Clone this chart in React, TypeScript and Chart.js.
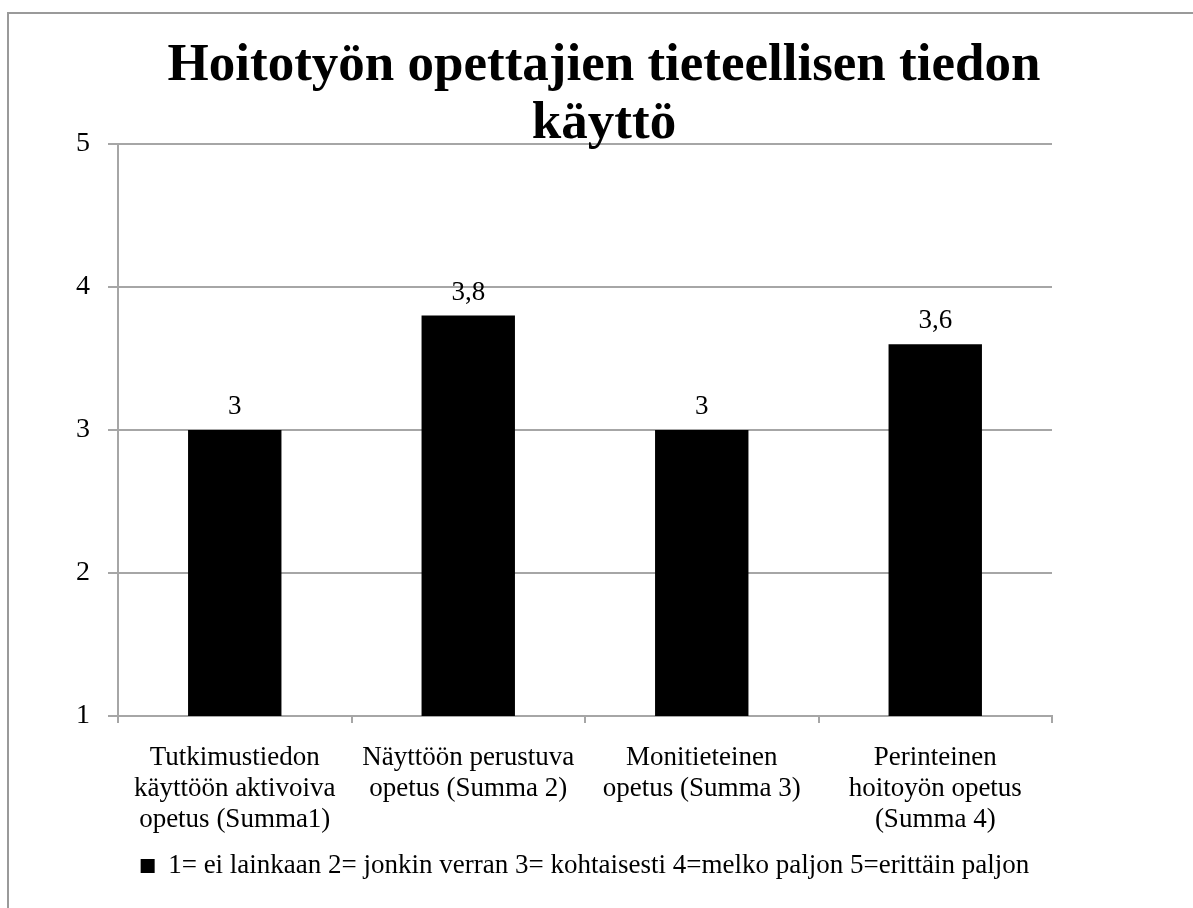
import React, { useEffect, useRef } from 'react';
import { Chart, registerables } from 'chart.js';

Chart.register(...registerables);

const titleLines = ['Hoitotyön opettajien tieteellisen tiedon', 'käyttö'];
const categories = [
  ['Tutkimustiedon', 'käyttöön aktivoiva', 'opetus (Summa1)'],
  ['Näyttöön perustuva', 'opetus (Summa 2)'],
  ['Monitieteinen', 'opetus (Summa 3)'],
  ['Perinteinen', 'hoitoyön opetus', '(Summa 4)'],
];
const values = [3, 3.8, 3, 3.6];
const seriesLabel = '1= ei lainkaan 2= jonkin verran 3= kohtaisesti 4=melko paljon 5=erittäin paljon';
const yMin = 1;
const yMax = 5;
const yStep = 1;

const FONT = "'Liberation Serif', 'Times New Roman', serif";
const GRID = '#a6a6a6';

const framePlugin = {
  id: 'frame',
  beforeDraw(chart: any) {
    const { ctx, width, height } = chart;
    ctx.save();
    ctx.fillStyle = '#ffffff';
    ctx.fillRect(0, 0, width, height);
    ctx.strokeStyle = '#9a9a9a';
    ctx.lineWidth = 2;
    ctx.beginPath();
    ctx.moveTo(8, height + 20);
    ctx.lineTo(8, 13);
    ctx.lineTo(width + 20, 13);
    ctx.stroke();
    ctx.restore();
  },
};

const valueLabelPlugin = {
  id: 'valueLabels',
  afterDatasetsDraw(chart: any) {
    const { ctx } = chart;
    const meta = chart.getDatasetMeta(0);
    ctx.save();
    ctx.fillStyle = '#000';
    ctx.font = `27px ${FONT}`;
    ctx.textAlign = 'center';
    ctx.textBaseline = 'alphabetic';
    meta.data.forEach((el: any, i: number) => {
      const v = chart.data.datasets[0].data[i];
      ctx.fillText(String(v).replace('.', ','), el.x, el.y - 16);
    });
    ctx.restore();
  },
};

export default function App() {
  const ref = useRef<HTMLCanvasElement | null>(null);
  useEffect(() => {
    if (!ref.current) return;
    const chart = new Chart(ref.current, {
      type: 'bar',
      data: {
        labels: categories,
        datasets: [
          {
            label: seriesLabel,
            data: values,
            backgroundColor: '#000',
            borderWidth: 0,
            barPercentage: 0.4,
            categoryPercentage: 1,
          },
        ],
      },
      options: {
        responsive: false,
        animation: false,
        layout: { padding: { left: 15, right: 0, top: 0, bottom: 18.5 } },
        plugins: {
          title: {
            display: true,
            text: titleLines,
            color: '#000',
            font: { family: FONT, size: 53, weight: 'bold', lineHeight: 58 / 53 },
            padding: { top: 37, bottom: -9 },
          },
          legend: {
            display: true,
            position: 'bottom',
            fullSize: false,
            labels: {
              color: '#000',
              font: { family: FONT, size: 27 },
              boxWidth: 14,
              boxHeight: 14,
              padding: 10,
            },
          },
          tooltip: { enabled: false },
        },
        scales: {
          x: {
            grid: { display: true, drawOnChartArea: false, color: GRID, lineWidth: 2, tickLength: 7 },
            border: { display: true, color: GRID, width: 2 },
            ticks: {
              color: '#000',
              font: { family: FONT, size: 27, lineHeight: 31 / 27 },
              padding: 19,
              maxRotation: 0,
              autoSkip: false,
            },
            afterFit(scale: any) {
              scale.height = 126.5;
            },
          },
          y: {
            min: yMin,
            max: yMax,
            grid: { color: GRID, lineWidth: 2, tickLength: 10 },
            border: { display: true, color: GRID, width: 2 },
            ticks: {
              stepSize: yStep,
              color: '#000',
              font: { family: FONT, size: 28 },
              padding: 18,
            },
            afterFit(scale: any) {
              scale.width = 103;
            },
          },
          yRight: {
            position: 'right',
            display: true,
            grid: { display: false },
            border: { display: false },
            ticks: { display: false },
            afterFit(scale: any) {
              scale.width = 141;
            },
          },
        },
      },
      plugins: [framePlugin, valueLabelPlugin],
    } as any);
    return () => chart.destroy();
  }, []);
  return (
    <div style={{ position: 'fixed', left: 0, top: 0, width: 1193, height: 908, background: '#fff' }}>
      <canvas ref={ref} width={1193} height={908} />
    </div>
  );
}
